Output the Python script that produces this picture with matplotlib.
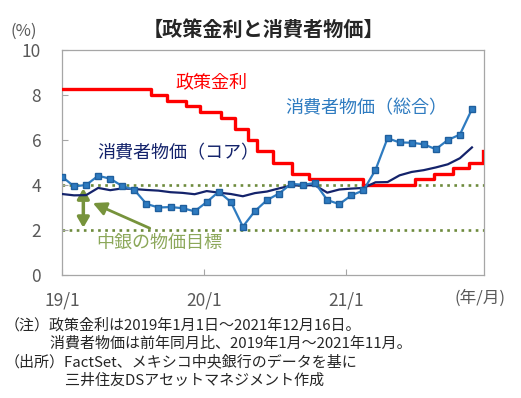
import numpy as np
import pandas as pd
import matplotlib.pyplot as plt

plt.rcParams['font.family'] = ['Noto Sans CJK JP', 'DejaVu Sans']

# 消費者物価（前年同月比、%）2019年1月〜2021年11月
cpi_total = [4.37, 3.94, 4.00, 4.41, 4.28, 3.95, 3.78, 3.16, 3.00, 3.02, 2.97, 2.83,
             3.24, 3.70, 3.25, 2.15, 2.84, 3.33, 3.62, 4.05, 4.01, 4.09, 3.33, 3.15,
             3.54, 3.76, 4.67, 6.08, 5.89, 5.88, 5.81, 5.59, 6.00, 6.24, 7.37]
cpi_core = [3.60, 3.54, 3.55, 3.87, 3.77, 3.85, 3.82, 3.78, 3.75, 3.68, 3.65, 3.59,
            3.73, 3.66, 3.60, 3.50, 3.64, 3.71, 3.85, 3.97, 3.99, 3.98, 3.66, 3.80,
            3.84, 3.87, 4.12, 4.13, 4.43, 4.58, 4.66, 4.78, 4.92, 5.19, 5.67]

# 政策金利（変更日と水準、%）
rate_dates = ['2019-01-01', '2019-08-16', '2019-09-27', '2019-11-15', '2019-12-20',
              '2020-02-14', '2020-03-20', '2020-04-21', '2020-05-15', '2020-06-26',
              '2020-08-14', '2020-09-25', '2021-02-12', '2021-06-25', '2021-08-13',
              '2021-10-01', '2021-11-12', '2021-12-16']
rate_values = [8.25, 8.00, 7.75, 7.50, 7.25, 7.00, 6.50, 6.00, 5.50, 5.00,
               4.50, 4.25, 4.00, 4.25, 4.50, 4.75, 5.00, 5.50]

target_band = [2, 4]
xtick_labels = ['19/1', '20/1', '21/1']
yticks = [0, 2, 4, 6, 8, 10]

notes = ['（注）政策金利は2019年1月1日～2021年12月16日。',
         '　　　消費者物価は前年同月比、2019年1月～2021年11月。',
         '（出所）FactSet、メキシコ中央銀行のデータを基に',
         '　　　　三井住友DSアセットマネジメント作成']


def month_pos(d):
    d = pd.Timestamp(d)
    return (d.year - 2019) * 12 + d.month - 1 + (d.day - 1) / d.days_in_month


W, H = 521, 398
fig = plt.figure(figsize=(W / 100, H / 100), dpi=100)
ax = fig.add_axes([62 / W, 1 - 275 / H, 422 / W, 225 / H])

gray = '#595959'
green = '#77933C'

# 物価目標
for v in target_band:
    ax.axhline(v, color='#6E8B3D', lw=1.9, ls=(0, (1, 1.7)), zorder=1)

# 政策金利
rx = [month_pos(d) for d in rate_dates]
ax.plot(rx, rate_values, drawstyle='steps-post', color='#FF0000', lw=2.4, zorder=3)

ax.set_xlim(0, 35.6)
ax.set_ylim(0, 10)
ax.set_xticks([0, 12, 24])
ax.set_xticklabels(xtick_labels)
ax.set_yticks(yticks)
ax.tick_params(axis='both', direction='in', length=4, color='#A6A6A6',
               labelsize=12.5, labelcolor=gray)
ax.tick_params(axis='y', pad=15)
ax.tick_params(axis='x', pad=12)
for s in ax.spines.values():
    s.set_color('#A6A6A6')
    s.set_linewidth(0.9)

# 消費者物価（月次）
ax2 = ax.twiny()
idx = np.arange(len(cpi_total))
ax2.plot(idx, cpi_core, color='#14236B', lw=1.6, zorder=3)
ax2.plot(idx, cpi_total, color='#2E7BC0', lw=1.6, marker='s', ms=4.5,
         mfc='#2E7BC0', mec='#1F5F9E', zorder=4)
ax2.set_xlim(0, 35)
ax2.set_xticks([])
for s in ax2.spines.values():
    s.set_visible(False)

# ラベル
ax.text(12.6, 8.53, '政策金利', color='#FF0000', fontsize=13, ha='center', va='center')
ax.text(9.8, 5.42, '消費者物価（コア）', color='#14236B', fontsize=13, ha='center', va='center')
ax.text(25.7, 7.42, '消費者物価（総合）', color='#2E7BC0', fontsize=13, ha='center', va='center')
ax.text(8.2, 1.42, '中銀の物価目標', color='#8CA85A', fontsize=13, ha='center', va='center')

ax.annotate('', xy=(1.8, 2.1), xytext=(1.8, 3.85),
            arrowprops=dict(arrowstyle='<|-|>,head_width=0.35,head_length=0.6',
                            color=green, lw=2.5, shrinkA=0, shrinkB=0))
ax.annotate('', xy=(2.6, 3.2), xytext=(7.4, 2.08),
            arrowprops=dict(arrowstyle='-|>,head_width=0.4,head_length=0.8',
                            color=green, lw=2, shrinkA=0, shrinkB=0))

fig.text(263 / W, 1 - 29 / H, '【政策金利と消費者物価】', fontsize=14.5, fontweight='bold',
         color='#262626', ha='center', va='center')
fig.text(24 / W, 1 - 31 / H, '(%)', fontsize=12, color=gray, ha='center', va='center')
fig.text(480 / W, 1 - 298 / H, '(年/月)', fontsize=12, color=gray, ha='center', va='center')

for i, line in enumerate(notes):
    fig.text(5 / W, 1 - (325 + 18.5 * i) / H, line, fontsize=10.8, color='#262626',
             ha='left', va='center')

fig.savefig('out.png', dpi=100)
